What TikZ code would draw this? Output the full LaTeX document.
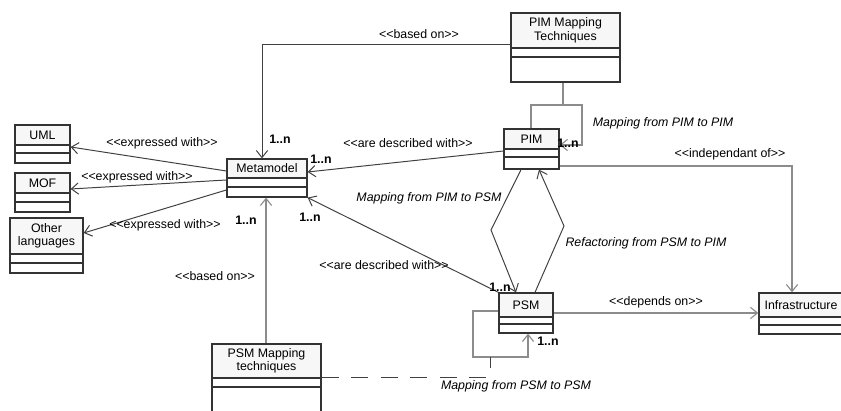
\documentclass[tikz,border=0pt]{standalone}
\usepackage{fontspec}
\setmainfont{Liberation Sans}
\usetikzlibrary{arrows.meta,fit}

% stereotype text with plain angle brackets
\newcommand{\stype}[1]{<{}<#1>{}>}

% class box: name, x1, y1, x2, y2, first line, second line, title
\newcommand{\umlclass}[8]{%
  \fill[namefill] (#2,#3) rectangle (#4,#6);
  \node[classbox, fit={(#2,#3) (#4,#5)}] (#1) {};
  \draw[compline] (#2,#6) -- (#4,#6) (#2,#7) -- (#4,#7);
  \node[classname] (#1-name) at ({(#2+#4)/2},{(#3+#6)/2}) {#8};
}

\tikzset{
  classbox/.style={draw=black!80, line width=0.9pt, inner sep=0pt},
  compline/.style={draw=black!80, line width=0.9pt},
  namefill/.style={fill=black!3},
  classname/.style={font=\fontsize{8.8}{9.6}\selectfont, align=center, inner sep=0pt},
  darkline/.style={draw=black!75, line width=0.7pt},
  lightline/.style={draw=black!45, line width=0.8pt},
  stereo/.style={font=\fontsize{8.8}{10}\selectfont, inner sep=1pt},
  roletext/.style={font=\fontsize{8.8}{10}\selectfont\itshape, inner sep=1pt},
  mult/.style={font=\fontsize{8.8}{10}\selectfont\bfseries, inner sep=1pt},
  >={Straight Barb[length=5pt,width=8pt]}
}

\begin{document}
\begin{tikzpicture}[x=0.025cm, y=-0.025cm]
    \clip (0,0) rectangle (841,411);
    % Classes
    \umlclass{uml}{15}{125}{70}{163}{145}{153}{UML}
    \umlclass{mof}{15}{173}{70}{212}{193}{202}{MOF}
    \umlclass{other}{10}{218}{83}{273}{254}{263}{Other\\languages}
    \umlclass{meta}{227}{159}{307}{197}{178}{187}{Metamodel}
    \umlclass{pimmap}{511}{13}{620}{82}{48}{57}{PIM Mapping\\Techniques}
    \umlclass{pim}{504}{129}{559}{169}{149}{157}{PIM}
    \umlclass{psm}{499}{293}{553}{333}{317}{324}{PSM}
    \umlclass{infra}{759}{293}{843}{334}{317}{325}{Infrastructure}
    \umlclass{psmmap}{212}{344}{321}{430}{378}{387}{PSM Mapping\\techniques}

    % Metamodel expressed with languages
    \draw[darkline,->] (meta.west |- 0,171) -- (uml.east |- 0,147);
    \draw[darkline,->] (meta.west |- 0,180) -- (mof.east |- 0,189);
    \draw[darkline,->] (meta.west |- 0,190) -- (other.east |- 0,233);
    \node[stereo] (lbl-uml) at (162,143) {\stype{expressed with}};
    \node[stereo] (lbl-mof) at (137,177) {\stype{expressed with}};
    \node[stereo] (lbl-other) at (165,225) {\stype{expressed with}};

    % Mapping techniques based on metamodel
    \draw[darkline,->] (pimmap.west |- 0,44) -| (meta.north -| 262,0);
    \draw[lightline,->] (psmmap.north -| 266,0) -- (meta.south -| 266,0);
    \node[stereo] (lbl-based1) at (419,34) {\stype{based on}};
    \node[stereo] (lbl-based2) at (215,276) {\stype{based on}};
    \node[mult] (m-top) at (280,139) {1..n};
    \node[mult] (m-bot) at (246,220) {1..n};

    % PIM and PSM described with metamodel
    \draw[darkline,->] (pim.west |- 0,151) -- (meta.east |- 0,172);
    \draw[darkline,->] (psm.north west) -- (meta.south east);
    \node[stereo] (lbl-desc1) at (408,143) {\stype{are described with}};
    \node[stereo] (lbl-desc2) at (384,265) {\stype{are described with}};
    \node[mult] (m-right) at (321,159) {1..n};
    \node[mult] (m-corner) at (310,217) {1..n};

    % PIM to PIM
    \coordinate (pimloop) at (563,105);
    \draw[lightline] (pimmap.south -| pimloop) -- (pimloop);
    \draw[lightline,->] (pim.north -| 531,0) |- (582,105) |- (pim.east |- 0,145);
    \node[roletext] (lbl-pimpim) at (663,123) {Mapping from PIM to PIM};
    \node[mult] (m-pim) at (568,143) {1..n};

    % PIM to PSM and back
    \draw[darkline,->] (pim.south -| 521,0) -- (491,230) -- (psm.north -| 516,0);
    \draw[darkline,->] (psm.north -| 535,0) -- (564,226) -- (pim.south -| 539,0);
    \node[roletext] (lbl-pimpsm) at (429,198) {Mapping from PIM to PSM};
    \node[roletext] (lbl-refac) at (646,243) {Refactoring from PSM to PIM};
    \node[mult] (m-psm) at (500,287) {1..n};

    % Infrastructure
    \draw[lightline,->] (pim.east |- 0,166) -| (infra.north -| 792,0);
    \draw[lightline,->] (psm.east |- 0,313) -- (infra.west |- 0,313);
    \node[stereo] (lbl-indep) at (730,154) {\stype{independant of}};
    \node[stereo] (lbl-dep) at (656,302) {\stype{depends on}};

    % PSM to PSM
    \coordinate (psmloop) at (490,357);
    \draw[lightline,->] (psm.west |- 0,311) -| (473,357) -| (psm.south -| 528,0);
    \draw[darkline, dash pattern=on 12pt off 9pt] (psmmap.east |- 0,377) -| (psmloop);
    \node[roletext] (lbl-psmpsm) at (516,386) {Mapping from PSM to PSM};
    \node[mult] (m-psm2) at (548,341) {1..n};
\end{tikzpicture}
\end{document}
